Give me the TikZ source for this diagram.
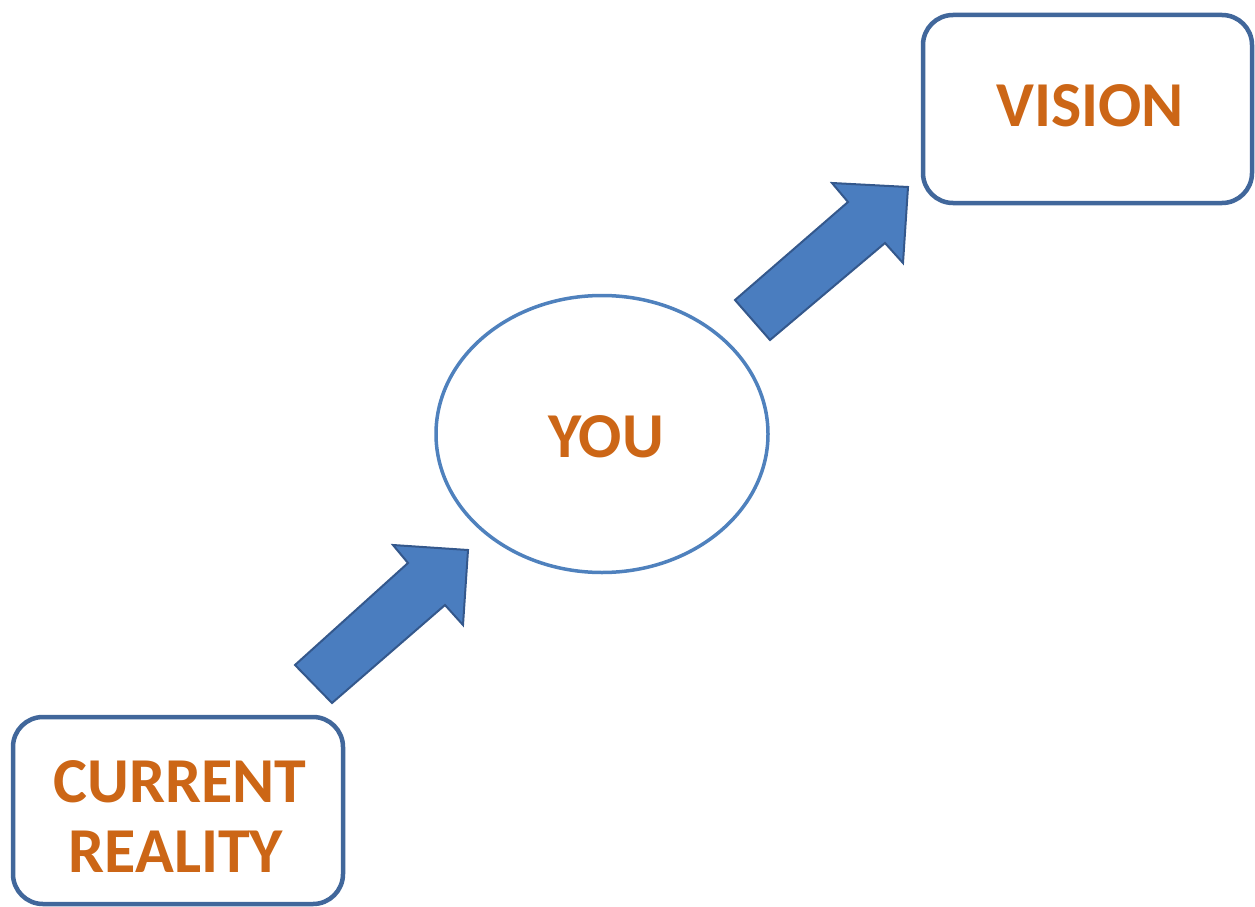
\documentclass[tikz,border=0pt]{standalone}
\usepackage{fontspec}
\setmainfont{Carlito}
\usetikzlibrary{shapes.geometric}
\definecolor{boxblue}{HTML}{41679B}
\definecolor{ellblue}{HTML}{4F81BD}
\definecolor{arrfill}{HTML}{4A7DBF}
\definecolor{arrdraw}{HTML}{34588C}
\definecolor{txtorange}{HTML}{CC6616}
\tikzset{
  rbox/.style={draw=boxblue, line width=4.5pt, rounded corners=30pt, fill=white},
  lbl/.style={font=\fontsize{64}{70}\selectfont\bfseries, text=txtorange, align=center},
  blockarrow/.style={fill=arrfill, draw=arrdraw, line width=2pt, line join=miter},
}
\begin{document}
\begin{tikzpicture}[x=1pt,y=-1pt]
\useasboundingbox (0,0) rectangle (1255,907);
% boxes
\draw[rbox] (13,717) rectangle (343,904);
\draw[rbox] (923,15) rectangle (1252,203);
\node[draw=ellblue, line width=3.5pt, ellipse, minimum width=332pt, minimum height=277pt] (you) at (602,434) {};
\node[lbl] (cr1) at (180,782) {CURRENT};
\node[lbl] (cr2) at (176,852) {REALITY};
\node[lbl] (vis) at (1090,106) {VISION};
\node[lbl] (yt) at (606,437) {YOU};
% block arrows
\draw[blockarrow] (295,665) -- (408,563) -- (393,545) -- (468,550) -- (463,625) -- (445,605) -- (332,703) -- cycle;
\draw[blockarrow] (735,300) -- (848,202) -- (832,183) -- (908,187) -- (903,263) -- (885,243) -- (770,340) -- cycle;
\end{tikzpicture}
\end{document}
